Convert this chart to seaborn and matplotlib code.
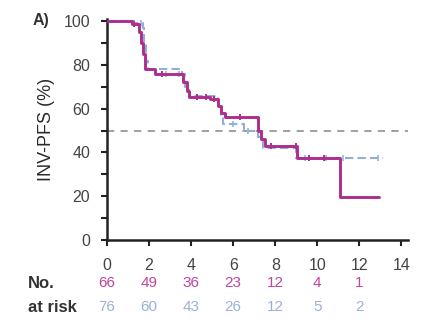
import numpy as np
import pandas as pd
import seaborn as sns
import matplotlib.pyplot as plt

# Kaplan-Meier step points (months, % progression-free)
arm_a_time = [0, 1.2, 1.5, 1.6, 1.7, 1.8, 2.3, 3.6, 3.8, 3.9, 4.9, 5.3, 5.4, 5.6, 7.2, 7.3, 7.5, 9.05, 11.1, 12.95]
arm_a_surv = [100, 98.5, 95, 90, 85, 78, 76, 72, 68, 65.5, 64.5, 61, 58, 56, 50, 46, 43, 37.5, 19.5, 19.5]
arm_b_time = [0, 1.3, 1.7, 1.75, 1.85, 1.95, 3.55, 3.7, 3.9, 5.3, 5.4, 5.5, 6.5, 7.2, 7.4, 9.0, 13.1]
arm_b_surv = [100, 99, 97, 90, 82, 78, 76, 70, 66, 62, 57, 53, 50, 47, 42, 37.5, 37.5]

# censoring marks
cens_a_time = [1.3, 2.6, 4.3, 4.7, 5.1, 6.3, 7.8, 9.0, 9.6, 10.3]
cens_a_surv = [98.5, 76, 65.5, 65.5, 64.5, 56, 43, 43, 37.5, 37.5]
cens_b_time = [1.6, 2.8, 3.4, 6.0, 6.7, 9.4, 10.4, 11.2, 12.9]
cens_b_surv = [99, 76, 76, 53, 50, 37.5, 37.5, 37.5, 37.5]

x_ticks = [0, 2, 4, 6, 8, 10, 12, 14]
risk_a = [66, 49, 36, 23, 12, 4, 1]
risk_b = [76, 60, 43, 26, 12, 5, 2]

col_a = "#AE2E8E"
col_b = "#8FAEDA"

sns.set_theme(style="white")
plt.rcParams["font.family"] = ["Liberation Sans", "DejaVu Sans"]

fig = plt.figure(figsize=(4.23, 3.32), dpi=100)
ax = fig.add_axes([0.253, 0.277, 0.711, 0.666])

df_a = pd.DataFrame({"t": arm_a_time, "s": arm_a_surv})
df_b = pd.DataFrame({"t": arm_b_time, "s": arm_b_surv})

ax.axhline(50, color="#999999", lw=1.3, ls=(0, (4, 3.5)), zorder=1)

sns.lineplot(data=df_b, x="t", y="s", ax=ax, color=col_b, lw=1.5,
             drawstyle="steps-post", estimator=None, sort=False,
             linestyle=(0, (4, 2)), zorder=2)
sns.scatterplot(x=cens_b_time, y=cens_b_surv, ax=ax, marker="|", s=25,
                color=col_b, linewidth=1.1, zorder=2)
sns.lineplot(data=df_a, x="t", y="s", ax=ax, color=col_a, lw=2.1,
             drawstyle="steps-post", estimator=None, sort=False, zorder=3)
sns.scatterplot(x=cens_a_time, y=cens_a_surv, ax=ax, marker="|", s=25,
                color=col_a, linewidth=1.4, zorder=3)

ax.set_xlim(0, 14.3)
ax.set_ylim(0, 101)
ax.set_xticks(x_ticks)
ax.set_yticks([0, 20, 40, 60, 80, 100])
ax.set_yticks([10, 30, 50, 70, 90], minor=True)
ax.set_xlabel("")
ax.set_ylabel("INV-PFS (%)", fontsize=13, color="#2a2a2a", labelpad=6)

for side in ["top", "right"]:
    ax.spines[side].set_visible(False)
for side in ["left", "bottom"]:
    ax.spines[side].set_linewidth(1.8)
    ax.spines[side].set_color("#222222")

ax.tick_params(axis="both", which="major", direction="out", length=4, width=1.5,
               color="#222222", labelsize=11.5, labelcolor="#444444",
               left=True, bottom=True)
ax.tick_params(axis="y", which="major", pad=8)
ax.tick_params(axis="x", which="major", pad=9)
ax.tick_params(axis="y", which="minor", direction="out", length=4, width=1.5,
               color="#222222", left=True)

fig.text(0.078, 0.937, "A)", fontsize=11.5, color="#333333", fontweight="bold",
         ha="left", va="center")

# number at risk table
fig.text(0.066, 0.147, "No.", fontsize=12, color="#333333", fontweight="bold",
         ha="left", va="center")
fig.text(0.066, 0.075, "at risk", fontsize=12, color="#333333", fontweight="bold",
         ha="left", va="center")
for t, a, b in zip(x_ticks, risk_a, risk_b):
    ax.text(t, -0.195, str(a), transform=ax.get_xaxis_transform(), ha="center",
            va="center", fontsize=11, color="#C2449C")
    ax.text(t, -0.303, str(b), transform=ax.get_xaxis_transform(), ha="center",
            va="center", fontsize=11, color="#9AB0DA")

fig.savefig("out.png", dpi=100)
